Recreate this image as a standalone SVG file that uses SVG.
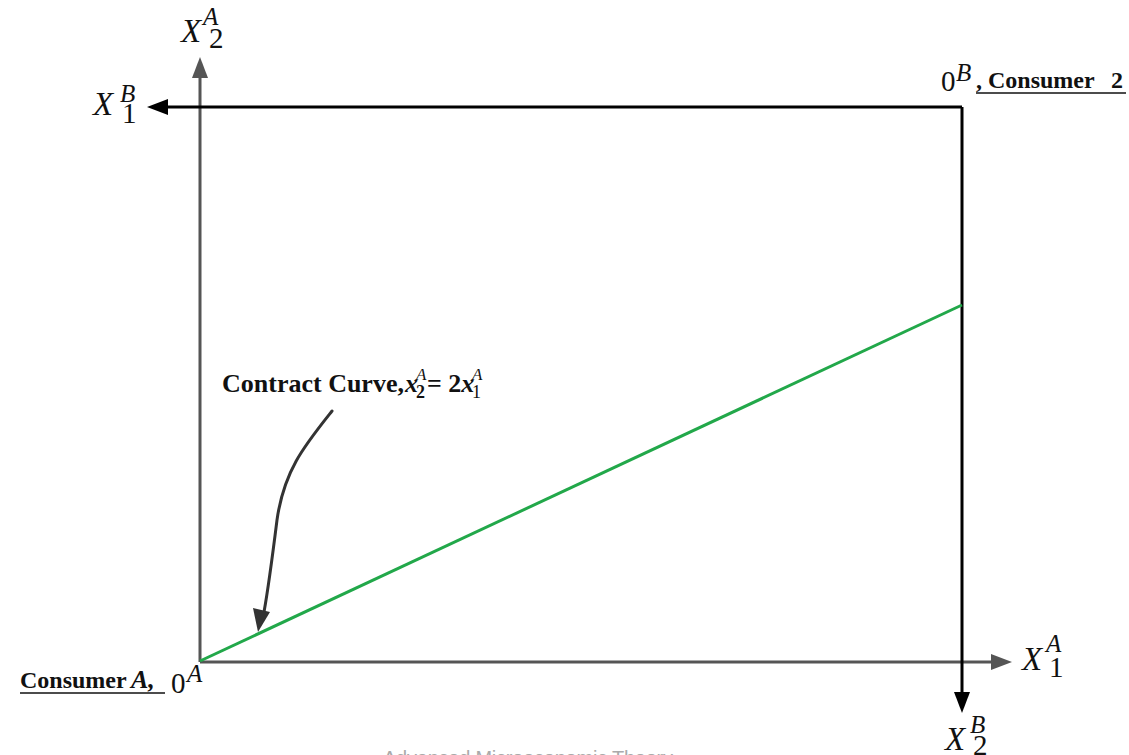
<svg xmlns="http://www.w3.org/2000/svg" width="1129" height="755" viewBox="0 0 1129 755">
<style>
.math{font-family:"Liberation Serif","DejaVu Serif",serif;fill:#111}
.mx{font-size:33px;font-style:italic}
.ms{font-size:25px;font-style:italic}
.md{font-size:29px}
.lbl{font-family:"Liberation Serif","DejaVu Serif",serif;font-weight:bold;fill:#111}
.ax{stroke:#555;stroke-width:3;fill:none}
.bx{stroke:#000;stroke-width:3;fill:none}
.ul{stroke:#111;stroke-width:1.6}
</style>
<rect width="1129" height="755" fill="#fff"/>
<g id="connectors">
  <line class="ax" x1="200" y1="662" x2="200" y2="74"/>
  <polygon points="200,57 192,78 208,78" fill="#555"/>
  <line class="ax" x1="200" y1="662" x2="996" y2="662"/>
  <polygon points="1012,662 991,654 991,670" fill="#555"/>
  <line class="bx" x1="962" y1="107" x2="164" y2="107"/>
  <polygon points="147,107 168,99 168,115" fill="#000"/>
  <line class="bx" x1="962" y1="107" x2="962" y2="696"/>
  <polygon points="962,713 954,692 970,692" fill="#000"/>
  <line x1="200" y1="661" x2="962" y2="305" stroke="#22a84a" stroke-width="3"/>
  <path d="M332,411 C305,445 284,470 277,520 C272,560 268,590 264,612" stroke="#333" stroke-width="3" fill="none" stroke-linecap="round"/>
  <polygon points="258,632 253,608 270,612" fill="#333"/>
</g>
<g id="label-x2a">
  <text class="math mx" x="181" y="42">X</text>
  <text class="math ms" x="203" y="25">A</text>
  <text class="math md" x="209" y="48">2</text>
</g>
<g id="label-x1b">
  <text class="math mx" x="93" y="115">X</text>
  <text class="math ms" x="120" y="102">B</text>
  <text class="math md" x="122" y="123">1</text>
</g>
<g id="label-x1a">
  <text class="math mx" x="1022" y="670">X</text>
  <text class="math ms" x="1046" y="652">A</text>
  <text class="math md" x="1049" y="677">1</text>
</g>
<g id="label-x2b">
  <text class="math mx" x="945" y="750">X</text>
  <text class="math ms" x="970" y="733">B</text>
  <text class="math md" x="973" y="755">2</text>
</g>
<g id="consumer-b">
  <text class="math" x="941" y="91" style="font-size:29px">0</text>
  <text class="math ms" x="956" y="81">B</text>
  <text class="lbl" x="976" y="88" style="font-size:24px">, Consumer<tspan x="1111">2</tspan></text>
  <line class="ul" x1="976" y1="93" x2="1126" y2="93"/>
</g>
<g id="consumer-a">
  <text class="lbl" x="20" y="688" style="font-size:24px">Consumer</text>
  <text class="lbl" x="131" y="688" style="font-size:26px;font-style:italic">A,</text>
  <line class="ul" x1="20" y1="693" x2="165" y2="693"/>
  <text class="math" x="171" y="693" style="font-size:29px">0</text>
  <text class="math ms" x="187" y="682">A</text>
</g>
<g id="contract-curve">
  <text class="lbl" x="222" y="392" style="font-size:26px">Contract Curve,</text>
  <text class="lbl" x="405" y="392" style="font-size:26px;font-style:italic">x</text>
  <text class="math" x="416" y="380" style="font-size:17px;font-style:italic">A</text>
  <text class="math" x="416" y="398" style="font-size:18px;font-weight:bold">2</text>
  <text class="lbl" x="427" y="392" style="font-size:26px">= 2<tspan style="font-style:italic">x</tspan></text>
  <text class="math" x="472" y="380" style="font-size:17px;font-style:italic">A</text>
  <text class="math" x="472" y="398" style="font-size:18px">1</text>
</g>
<g id="caption">
  <text x="383" y="765" font-family="Liberation Sans, Arial, sans-serif" font-size="20" fill="#aaa" textLength="290">Advanced Microeconomic Theory</text>
</g>
</svg>
